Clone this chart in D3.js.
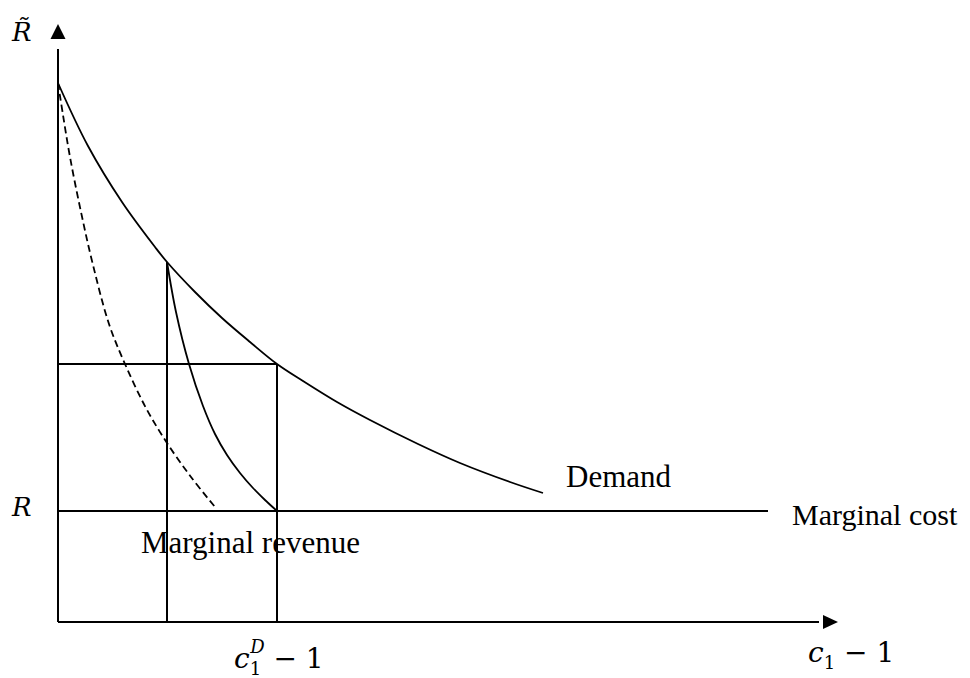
<!DOCTYPE html>
<html><head><meta charset="utf-8">
<script src="https://cdn.jsdelivr.net/npm/d3@7"></script>
<style>body{margin:0;background:#fff}</style>
</head><body>
<svg id="c" width="970" height="678"></svg>
<script>
// Data (abstract units)
const demandX = [0, 3, 6.4, 9.7, 10.9, 13.7, 16.4, 19.2, 21.9, 24.5, 27.9, 31.2, 36, 40.2, 45.2, 48.5];
const demandY = [53.9, 47.6, 42, 37.5, 36, 33, 30.4, 28, 25.8, 24.1, 22, 20.2, 17.8, 15.9, 14, 12.9];
const dashedX = [0, 0.5, 1.2, 2.3, 3.5, 5.1, 6.7, 8.8, 10.9, 13.3, 15.7];
const dashedY = [53.9, 50.7, 46.5, 41, 35.7, 29.8, 25.8, 21.4, 17.9, 14.5, 11.5];
const mrX = [10.9, 11.8, 13.1, 14.5, 15.7, 16.9, 18.2, 19.5, 20.7, 21.9];
const mrY = [36, 31, 25.8, 21.6, 18.8, 16.7, 14.9, 13.4, 12.2, 11.1];
const marginalCost = 11.1;
const mcEndX = 71;
const priceLevel = 25.8;
const qMonopoly = 10.9;
const qCompetitive = 21.9;
const axisMaxX = 78;
const axisMaxY = 59.8;
const textLabels = ["Demand", "Marginal cost", "Marginal revenue"];

const svg = d3.select("#c");
const x = d3.scaleLinear().domain([0, 78]).range([58, 838]);
const y = d3.scaleLinear().domain([0, 60]).range([622, 22]);

const zip = (xs, ys) => xs.map((v, i) => [v, ys[i]]);
const line = d3.line().x(d => x(d[0])).y(d => y(d[1])).curve(d3.curveCatmullRom.alpha(0.5));
const seg = d3.line().x(d => x(d[0])).y(d => y(d[1]));

const g = svg.append("g").attr("fill", "none").attr("stroke", "#000");

// axes
g.append("path").attr("d", seg([[0, 0], [0, axisMaxY - 2.5]])).attr("stroke-width", 2);
g.append("path").attr("d", seg([[0, 0], [axisMaxX - 1.9, 0]])).attr("stroke-width", 2);
// arrowheads
svg.append("path").attr("fill", "#000")
  .attr("d", `M${x(0)},${y(axisMaxY)} L${x(0) - 7.5},${y(axisMaxY) + 15} L${x(0) + 7.5},${y(axisMaxY) + 15} Z`);
svg.append("path").attr("fill", "#000")
  .attr("d", `M${x(axisMaxX)},${y(0)} L${x(axisMaxX) - 15},${y(0) - 7} L${x(axisMaxX) - 15},${y(0) + 7} Z`);

// guide lines
g.append("path").attr("d", seg([[0, priceLevel], [qCompetitive, priceLevel]])).attr("stroke-width", 2);
g.append("path").attr("d", seg([[qMonopoly, 0], [qMonopoly, demandY[4]]])).attr("stroke-width", 2);
g.append("path").attr("d", seg([[qCompetitive, 0], [qCompetitive, priceLevel]])).attr("stroke-width", 2);
// marginal cost
g.append("path").attr("d", seg([[0, marginalCost], [mcEndX, marginalCost]])).attr("stroke-width", 2);

// curves
g.append("path").attr("d", line(zip(demandX, demandY))).attr("stroke-width", 1.8);
g.append("path").attr("d", line(zip(mrX, mrY))).attr("stroke-width", 1.8);
g.append("path").attr("d", line(zip(dashedX, dashedY))).attr("stroke-width", 1.8)
  .attr("stroke-dasharray", "7,4");

// text labels
const serif = "'Liberation Serif', 'Times New Roman', serif";
svg.append("text").attr("x", 566).attr("y", 487).attr("font-family", serif).attr("font-size", 31).text(textLabels[0]);
svg.append("text").attr("x", 792).attr("y", 525).attr("font-family", serif).attr("font-size", 30).text(textLabels[1]);
svg.append("text").attr("x", 141).attr("y", 553).attr("font-family", serif).attr("font-size", 31).text(textLabels[2]);

// math labels
const mathFont = "'DejaVu Serif', serif";
svg.append("text").attr("x", 12).attr("y", 41).attr("font-family", mathFont).attr("font-style", "italic").attr("font-size", 26).text("R\u0303");
svg.append("text").attr("x", 12).attr("y", 516).attr("font-family", mathFont).attr("font-style", "italic").attr("font-size", 26).text("R");

function cLabel(xp, yp, sup) {
  const t = svg.append("text").attr("x", xp).attr("y", yp).attr("font-family", mathFont).attr("font-size", 28);
  t.append("tspan").attr("font-style", "italic").text("c");
  t.append("tspan").attr("font-size", 18).attr("dy", 7).text("1");
  if (sup) {
    t.append("tspan").attr("font-size", 18).attr("font-style", "italic").attr("dx", -11).attr("dy", -22).text(sup);
    t.append("tspan").attr("dy", 15).text(" \u2212 1");
  } else {
    t.append("tspan").attr("dy", -7).text(" \u2212 1");
  }
}
cLabel(234, 668, "D");
cLabel(808, 662, null);
</script>
</body></html>
